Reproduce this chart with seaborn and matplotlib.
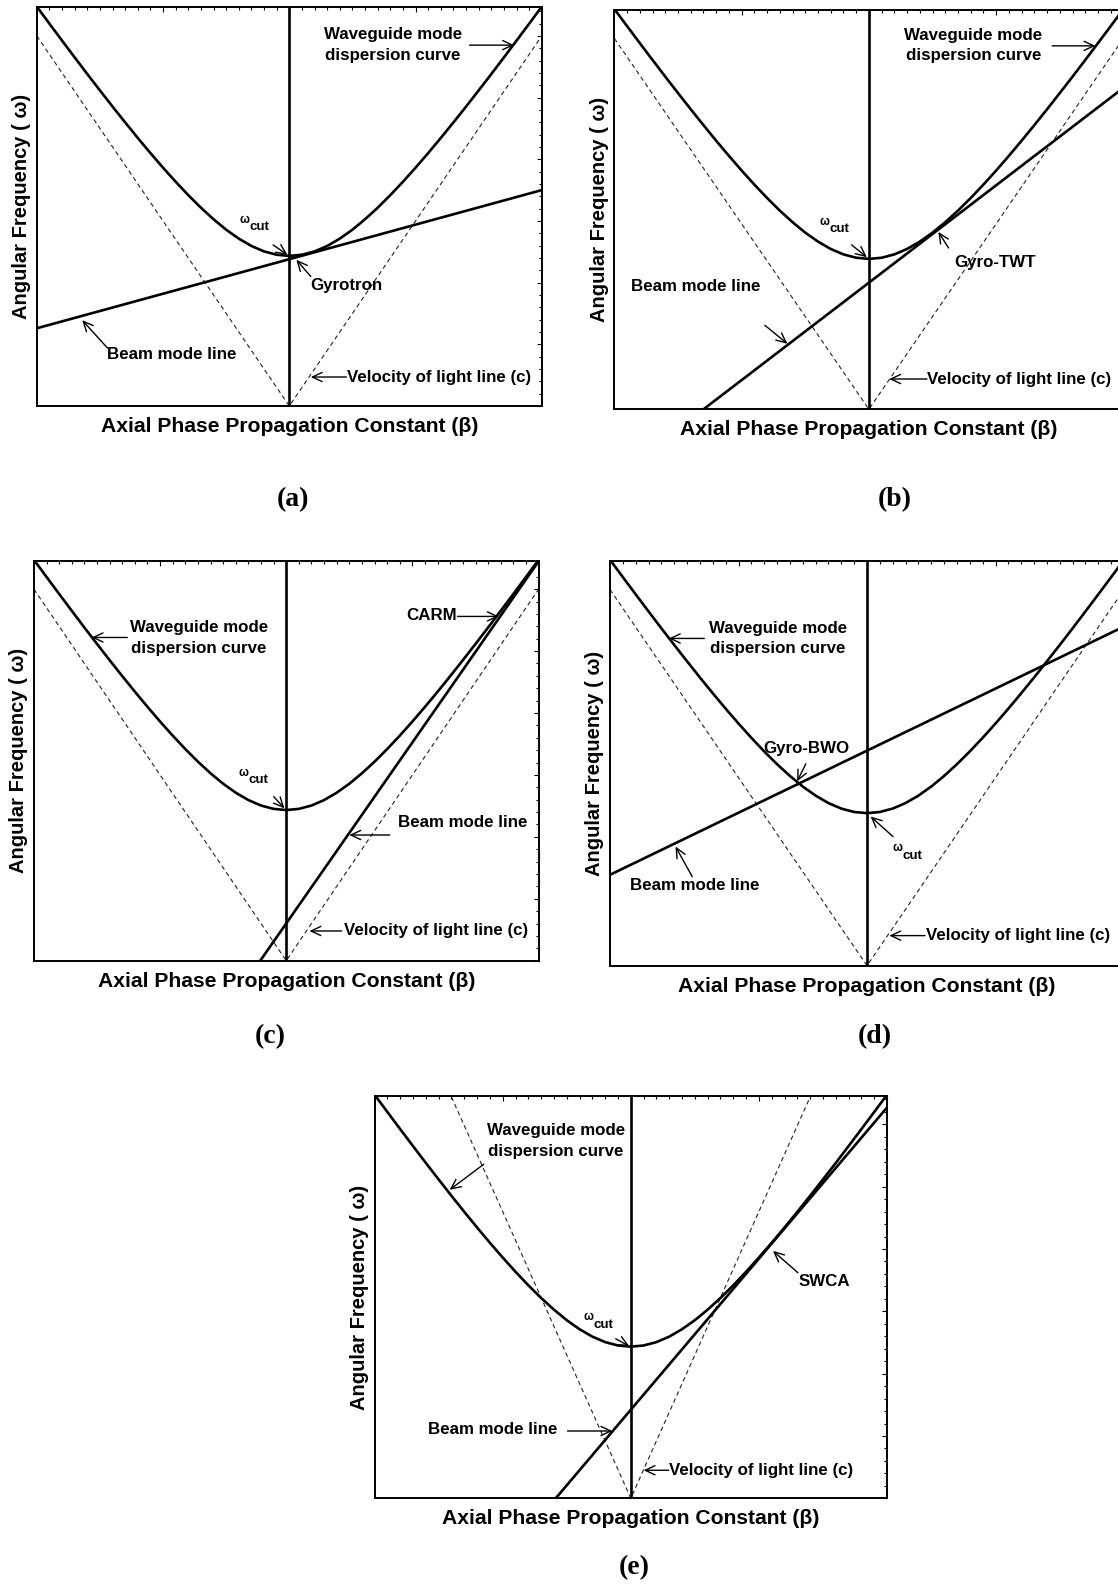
import matplotlib
matplotlib.use("Agg")
import matplotlib.pyplot as plt
import seaborn as sns
import pandas as pd
from matplotlib.ticker import MultipleLocator

# ---------------- data ----------------
waveguide_beta = [-1.00, -0.95, -0.90, -0.85, -0.80, -0.75, -0.70, -0.65, -0.60, -0.55,
                  -0.50, -0.45, -0.40, -0.35, -0.30, -0.25, -0.20, -0.15, -0.10, -0.05,
                  0.00, 0.05, 0.10, 0.15, 0.20, 0.25, 0.30, 0.35, 0.40, 0.45,
                  0.50, 0.55, 0.60, 0.65, 0.70, 0.75, 0.80, 0.85, 0.90, 0.95, 1.00]
waveguide_omega = [6.475, 6.198, 5.923, 5.651, 5.381, 5.116, 4.854, 4.597, 4.345, 4.100,
                   3.863, 3.635, 3.418, 3.214, 3.027, 2.858, 2.713, 2.594, 2.506, 2.452,
                   2.433, 2.452, 2.506, 2.594, 2.713, 2.858, 3.027, 3.214, 3.418, 3.635,
                   3.863, 4.100, 4.345, 4.597, 4.854, 5.116, 5.381, 5.651, 5.923, 6.198, 6.475]

light_beta = [-1.0, 0.0, 1.0]
light_omega = [6.0, 0.0, 6.0]
light_beta_e = [-0.70, 0.0, 0.70]
light_omega_e = [6.44, 0.0, 6.44]

beam_beta_a = [-1.0, 1.0]
beam_omega_a = [1.26, 3.50]
beam_beta_b = [-0.65, 1.0]
beam_omega_b = [0.0, 5.20]
beam_beta_c = [-0.103, 1.0]
beam_omega_c = [0.0, 6.45]
beam_beta_d = [-1.0, 1.0]
beam_omega_d = [1.45, 5.41]
beam_beta_e = [-0.293, 1.0]
beam_omega_e = [0.0, 6.27]

cutoff_beta = 0.0
panel_labels = ["(a)", "(b)", "(c)", "(d)", "(e)"]
x_label = "Axial Phase Propagation Constant (\u03b2)"
y_label = "Angular Frequency ( \u03c9)"
wg_text = "Waveguide mode\ndispersion curve"
light_text = "Velocity of light line (c)"
beam_text = "Beam mode line"

# ---------------- layout ----------------
W, H = 1118, 1584
sns.set_style("white")
plt.rcParams["font.family"] = ["Liberation Sans", "DejaVu Sans"]
plt.rcParams["font.weight"] = "bold"
plt.rcParams["text.color"] = "black"
plt.rcParams["axes.labelcolor"] = "black"

fig = plt.figure(figsize=(W / 100, H / 100), dpi=100)

# pixel boxes: left, right, top, bottom
boxes = [
    (36.8, 541.8, 7.5, 406.0),
    (614.4, 1123.4, 10.0, 409.3),
    (33.9, 538.6, 560.7, 960.7),
    (610.0, 1124.0, 560.7, 965.7),
    (374.6, 887.0, 1095.7, 1498.3),
]
letter_pos = [(293, 500), (895, 500), (270, 1037), (875, 1037), (634, 1568)]

beams = [(beam_beta_a, beam_omega_a), (beam_beta_b, beam_omega_b),
         (beam_beta_c, beam_omega_c), (beam_beta_d, beam_omega_d),
         (beam_beta_e, beam_omega_e)]
lights = [(light_beta, light_omega)] * 4 + [(light_beta_e, light_omega_e)]

# annotations: texts (label, (x, y), ha), arrows (tail, tip), cut label position
annots = [
    dict(texts=[(wg_text, (0.41, 5.85), "center"), ("Gyrotron", (0.226, 1.95), "center"),
                (beam_text, (-0.464, 0.83), "center"), (light_text, (0.228, 0.47), "left")],
         arrows=[((0.714, 5.85), (0.89, 5.85)), ((-0.064, 2.61), (-0.007, 2.45)),
                 ((0.085, 2.10), (0.028, 2.37)), ((-0.72, 0.94), (-0.82, 1.39)),
                 ((0.226, 0.47), (0.085, 0.47))],
         cut=(-0.145, 2.95)),
    dict(texts=[(wg_text, (0.41, 5.89), "center"), ("Gyro-TWT", (0.496, 2.38), "center"),
                (beam_text, (-0.68, 1.98), "center"), (light_text, (0.23, 0.49), "left")],
         arrows=[((0.72, 5.88), (0.89, 5.88)), ((-0.068, 2.66), (-0.008, 2.46)),
                 ((0.313, 2.61), (0.273, 2.87)), ((-0.409, 1.36), (-0.32, 1.06)),
                 ((0.228, 0.49), (0.08, 0.49))],
         cut=(-0.145, 2.97)),
    dict(texts=[(wg_text, (-0.347, 5.21), "center"), ("CARM", (0.576, 5.58), "center"),
                (beam_text, (0.70, 2.23), "center"), (light_text, (0.227, 0.48), "left")],
         arrows=[((-0.63, 5.22), (-0.771, 5.22)), ((0.679, 5.56), (0.842, 5.56)),
                 ((-0.05, 2.65), (-0.007, 2.46)), ((0.41, 2.03), (0.25, 2.03)),
                 ((0.22, 0.48), (0.092, 0.48))],
         cut=(-0.137, 2.97)),
    dict(texts=[(wg_text, (-0.346, 5.22), "center"), ("Gyro-BWO", (-0.238, 3.47), "center"),
                (beam_text, (-0.67, 1.28), "center"), (light_text, (0.23, 0.48), "left")],
         arrows=[((-0.633, 5.22), (-0.771, 5.22)), ((-0.238, 3.22), (-0.272, 2.94)),
                 ((0.101, 2.06), (0.014, 2.38)), ((-0.68, 1.42), (-0.745, 1.90)),
                 ((0.226, 0.48), (0.087, 0.48))],
         cut=(0.148, 1.81)),
    dict(texts=[(wg_text, (-0.293, 5.73), "center"), ("SWCA", (0.754, 3.48), "center"),
                (beam_text, (-0.538, 1.11), "center"), (light_text, (0.15, 0.45), "left")],
         arrows=[((-0.574, 5.36), (-0.707, 4.95)), ((-0.059, 2.56), (-0.006, 2.44)),
                 ((0.652, 3.62), (0.555, 3.97)), ((-0.247, 1.08), (-0.072, 1.08)),
                 ((0.148, 0.45), (0.05, 0.45))],
         cut=(-0.135, 2.84)),
]

wg_df = pd.DataFrame({"beta": waveguide_beta, "omega": waveguide_omega})

for i, (l, r, t, b) in enumerate(boxes):
    ax = fig.add_axes([l / W, 1 - b / H, (r - l) / W, (b - t) / H])
    ax.set_xlim(-1, 1)
    ax.set_ylim(0, 6.46)

    lb, lo = lights[i]
    sns.lineplot(x=lb, y=lo, ax=ax, color="#222222", lw=0.8, linestyle=(0, (4, 3)),
                 sort=False, estimator=None)
    sns.lineplot(data=wg_df, x="beta", y="omega", ax=ax, color="black", lw=1.9,
                 sort=False, estimator=None)
    bb, bo = beams[i]
    sns.lineplot(x=bb, y=bo, ax=ax, color="black", lw=1.9, sort=False, estimator=None)
    ax.axvline(cutoff_beta, color="black", lw=1.9)

    for txt, (x, y), ha in annots[i]["texts"]:
        ax.text(x, y, txt, ha=ha, va="center", fontsize=12.2, fontweight="bold",
                color="black", multialignment="center", linespacing=1.45)
    for tail, tip in annots[i]["arrows"]:
        ax.annotate("", xy=tip, xytext=tail,
                    arrowprops=dict(arrowstyle="->,head_length=0.7,head_width=0.33",
                                    color="black", lw=1.0, shrinkA=0, shrinkB=0),
                    fontsize=10)
    cx, cy = annots[i]["cut"]
    ax.annotate("\u03c9", xy=(cx, cy), xytext=(-5.6, 2.8), textcoords="offset points",
                ha="center", va="center", fontsize=8.5, fontweight="bold", color="black")
    ax.annotate("cut", xy=(cx, cy), xytext=(5.2, -2.4), textcoords="offset points",
                ha="center", va="center", fontsize=9.6, fontweight="bold", color="black")

    ax.xaxis.set_major_locator(MultipleLocator(0.5))
    ax.xaxis.set_minor_locator(MultipleLocator(0.05))
    ax.yaxis.set_major_locator(MultipleLocator(1.0))
    ax.yaxis.set_minor_locator(MultipleLocator(0.2))
    ax.tick_params(which="both", direction="in", top=True, right=True,
                   labelbottom=False, labelleft=False, color="black", width=0.8)
    ax.tick_params(which="major", length=3.8)
    ax.tick_params(which="minor", length=2.0)
    for s in ax.spines.values():
        s.set_color("black")
        s.set_linewidth(1.4)
    ax.set_xlabel(x_label, fontsize=15.2, fontweight="bold", labelpad=8, color="black")
    ax.set_ylabel(y_label, fontsize=14.5, fontweight="bold", labelpad=4, color="black")

    lx, ly = letter_pos[i]
    fig.text(lx / W, 1 - ly / H, panel_labels[i], ha="center", va="center",
             fontsize=20, fontweight="bold", family="Liberation Serif", color="black")

fig.savefig("out.png", dpi=100, facecolor="white")
